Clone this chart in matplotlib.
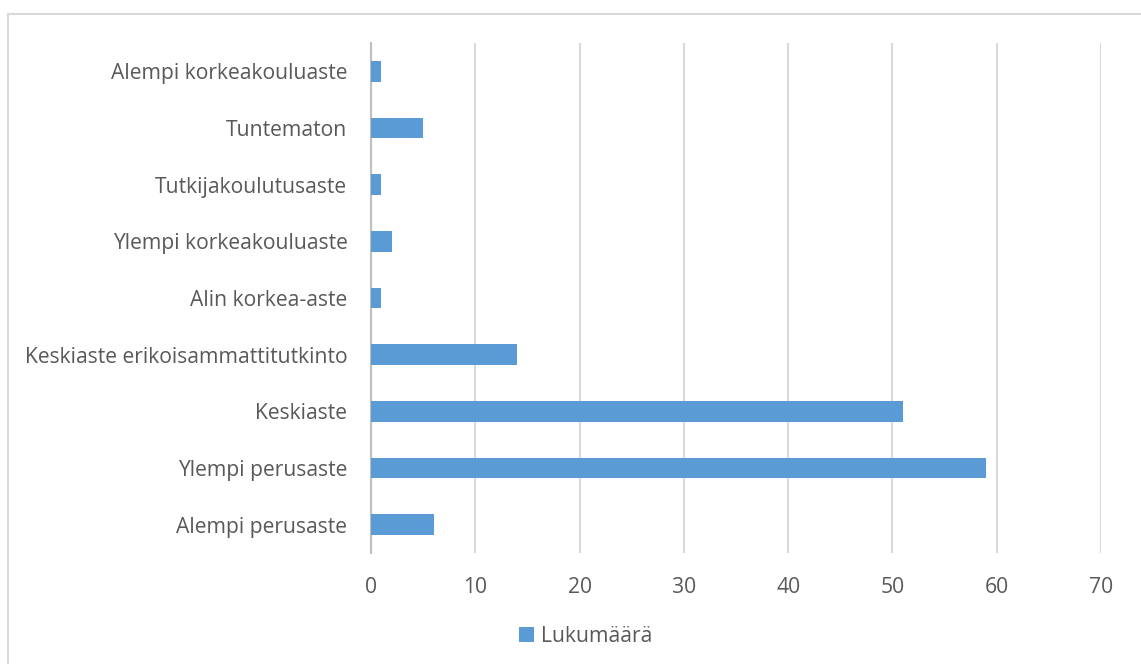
import matplotlib.pyplot as plt
from matplotlib.patches import Rectangle

categories = [
    "Alempi perusaste",
    "Ylempi perusaste",
    "Keskiaste",
    "Keskiaste erikoisammattitutkinto",
    "Alin korkea-aste",
    "Ylempi korkeakouluaste",
    "Tutkijakoulutusaste",
    "Tuntematon",
    "Alempi korkeakouluaste",
]
counts = [6, 59, 51, 14, 1, 2, 1, 5, 1]
series_name = "Lukumäärä"
x_ticks = [0, 10, 20, 30, 40, 50, 60, 70]

text_color = "#595959"
bar_color = "#5b9bd5"
plt.rcParams["font.family"] = ["Open Sans", "DejaVu Sans"]

fig = plt.figure(figsize=(11.41, 6.64), dpi=100)
ax = fig.add_axes([0.3252, 0.1672, 0.6398, 0.768])

# outer chart border
fig.patches.append(Rectangle((8 / 1141, -0.01), 1.2, 1 - 14 / 664 + 0.01,
                             transform=fig.transFigure, fill=False,
                             edgecolor="#d9d9d9", linewidth=1.5))

y = range(len(categories))
ax.barh(y, counts, height=0.36, color=bar_color, label=series_name, zorder=3)

ax.set_xlim(0, 70)
ax.set_ylim(-0.5, len(categories) - 0.5)
ax.set_xticks(x_ticks)
ax.set_yticks(list(y))
ax.set_yticklabels(categories)
ax.grid(axis="x", color="#d9d9d9", linewidth=1.5, zorder=0)
for s in ["top", "right", "bottom"]:
    ax.spines[s].set_visible(False)
ax.spines["left"].set_color("#bfbfbf")
ax.spines["left"].set_linewidth(1.5)
ax.tick_params(axis="both", length=0, labelsize=15.2, labelcolor=text_color)
ax.tick_params(axis="x", pad=17)
ax.tick_params(axis="y", pad=17)

fig.legend(loc="center", bbox_to_anchor=(0.513, 0.042), frameon=False,
           fontsize=15.2, labelcolor=text_color, handlelength=0.75,
           handleheight=0.75, handletextpad=0.3)

fig.savefig("out.png", dpi=100)
